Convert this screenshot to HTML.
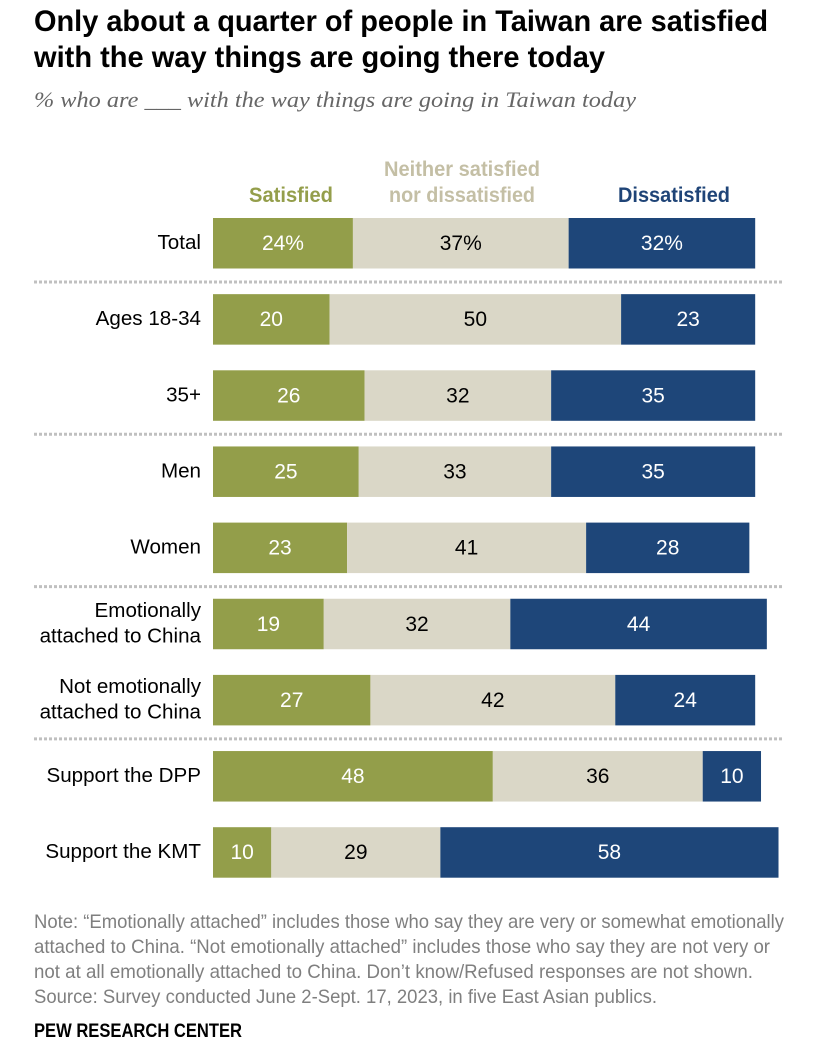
<!DOCTYPE html>
<html lang="en">
<head>
<meta charset="utf-8">
<title>Satisfaction in Taiwan</title>
<style>
html,body{margin:0;padding:0;background:#fff;width:828px;height:1058px;overflow:hidden}
svg{display:block;font-family:"Liberation Sans",sans-serif}
</style>
</head>
<body>
<svg id="chart" width="828" height="1058" viewBox="0 0 828 1058" xmlns="http://www.w3.org/2000/svg">
  <text x="34" y="31" font-size="30" font-weight="700" fill="#000" textLength="734" lengthAdjust="spacingAndGlyphs">Only about a quarter of people in Taiwan are satisfied</text>
  <text x="34" y="67" font-size="30" font-weight="700" fill="#000" textLength="571" lengthAdjust="spacingAndGlyphs">with the way things are going there today</text>
  <text x="34" y="107" font-size="22" font-style="italic" fill="#666" style="font-family:'Liberation Serif',serif" textLength="602" lengthAdjust="spacingAndGlyphs">% who are ___ with the way things are going in Taiwan today</text>

  <text x="291" y="202" text-anchor="middle" font-size="21" font-weight="700" fill="#949e4b" textLength="84" lengthAdjust="spacingAndGlyphs">Satisfied</text>
  <text x="462" y="176" text-anchor="middle" font-size="21" font-weight="700" fill="#c4bfa5" textLength="156" lengthAdjust="spacingAndGlyphs">Neither satisfied</text>
  <text x="462" y="202" text-anchor="middle" font-size="21" font-weight="700" fill="#c4bfa5" textLength="146" lengthAdjust="spacingAndGlyphs">nor dissatisfied</text>
  <text x="674" y="202" text-anchor="middle" font-size="21" font-weight="700" fill="#1f4477" textLength="112" lengthAdjust="spacingAndGlyphs">Dissatisfied</text>

  <g id="separators"></g>
  <g id="bars"></g>
  <g id="labels"></g>

  <g font-size="19.5" fill="#7f7f7f">
    <text x="34" y="928" textLength="750" lengthAdjust="spacingAndGlyphs">Note: “Emotionally attached” includes those who say they are very or somewhat emotionally</text>
    <text x="34" y="953" textLength="736" lengthAdjust="spacingAndGlyphs">attached to China. “Not emotionally attached” includes those who say they are not very or</text>
    <text x="34" y="978" textLength="719" lengthAdjust="spacingAndGlyphs">not at all emotionally attached to China. Don’t know/Refused responses are not shown.</text>
    <text x="34" y="1003" textLength="623" lengthAdjust="spacingAndGlyphs">Source: Survey conducted June 2-Sept. 17, 2023, in five East Asian publics.</text>
  </g>
  <text x="34" y="1037" font-size="19.5" font-weight="700" fill="#000" textLength="208" lengthAdjust="spacingAndGlyphs">PEW RESEARCH CENTER</text>
</svg>
<script>
var categories = [
  ["Total"],
  ["Ages 18-34"],
  ["35+"],
  ["Men"],
  ["Women"],
  ["Emotionally", "attached to China"],
  ["Not emotionally", "attached to China"],
  ["Support the DPP"],
  ["Support the KMT"]
];
var satisfied = [24, 20, 26, 25, 23, 19, 27, 48, 10];
var neither = [37, 50, 32, 33, 41, 32, 42, 36, 29];
var dissatisfied = [32, 23, 35, 35, 28, 44, 24, 10, 58];
var percentRows = ["Total"];
var separatorsAfter = ["Total", "35+", "Women", "Not emotionally"];

var NS = "http://www.w3.org/2000/svg";
var X0 = 213, UNIT = 5.83, ROW0 = 218, PITCH = 76.15, BAR_H = 50.5;
function xScale(v) { return X0 + v * UNIT; }
function yScale(i) { return ROW0 + i * PITCH; }

var series = [
  { key: "satisfied", values: satisfied, fill: "#939e4a", text: "#fff" },
  { key: "neither", values: neither, fill: "#dad7c7", text: "#000" },
  { key: "dissatisfied", values: dissatisfied, fill: "#1e4679", text: "#fff" }
];
var barsG = document.getElementById("bars");
var labelsG = document.getElementById("labels");
var sepG = document.getElementById("separators");

categories.forEach(function (lines, i) {
  var y = yScale(i);
  var cum = 0;
  series.forEach(function (s) {
    var v = s.values[i];
    var x1 = xScale(cum), x2 = xScale(cum + v);
    var rect = document.createElementNS(NS, "rect");
    rect.setAttribute("x", x1);
    rect.setAttribute("y", y);
    rect.setAttribute("width", x2 - x1);
    rect.setAttribute("height", BAR_H);
    rect.setAttribute("fill", s.fill);
    
    
    barsG.appendChild(rect);

    var t = document.createElementNS(NS, "text");
    t.setAttribute("x", (x1 + x2) / 2);
    t.setAttribute("y", y + 32);
    t.setAttribute("text-anchor", "middle");
    t.setAttribute("font-size", "21");
    t.setAttribute("fill", s.text);
    t.textContent = v + (percentRows.indexOf(lines[0]) >= 0 ? "%" : "");
    
    
    barsG.appendChild(t);
    cum += v;
  });

  lines.forEach(function (line, k) {
    var lab = document.createElementNS(NS, "text");
    lab.setAttribute("x", 201);
    lab.setAttribute("y", y + 31 + (k - (lines.length - 1) / 2) * 25.5);
    lab.setAttribute("text-anchor", "end");
    lab.setAttribute("font-size", "20.6");
    lab.setAttribute("fill", "#000");
    lab.textContent = line;
    
    
    labelsG.appendChild(lab);
  });

  if (separatorsAfter.indexOf(lines[0]) >= 0) {
    var sep = document.createElementNS(NS, "line");
    sep.setAttribute("x1", 34);
    sep.setAttribute("x2", 782);
    sep.setAttribute("y1", y + BAR_H + 13.5);
    sep.setAttribute("y2", y + BAR_H + 13.5);
    sep.setAttribute("stroke", "#c0c0c0");
    sep.setAttribute("stroke-width", "3");
    sep.setAttribute("stroke-dasharray", "3 2");
    
    
    sepG.appendChild(sep);
  }
});
</script>
</body>
</html>
